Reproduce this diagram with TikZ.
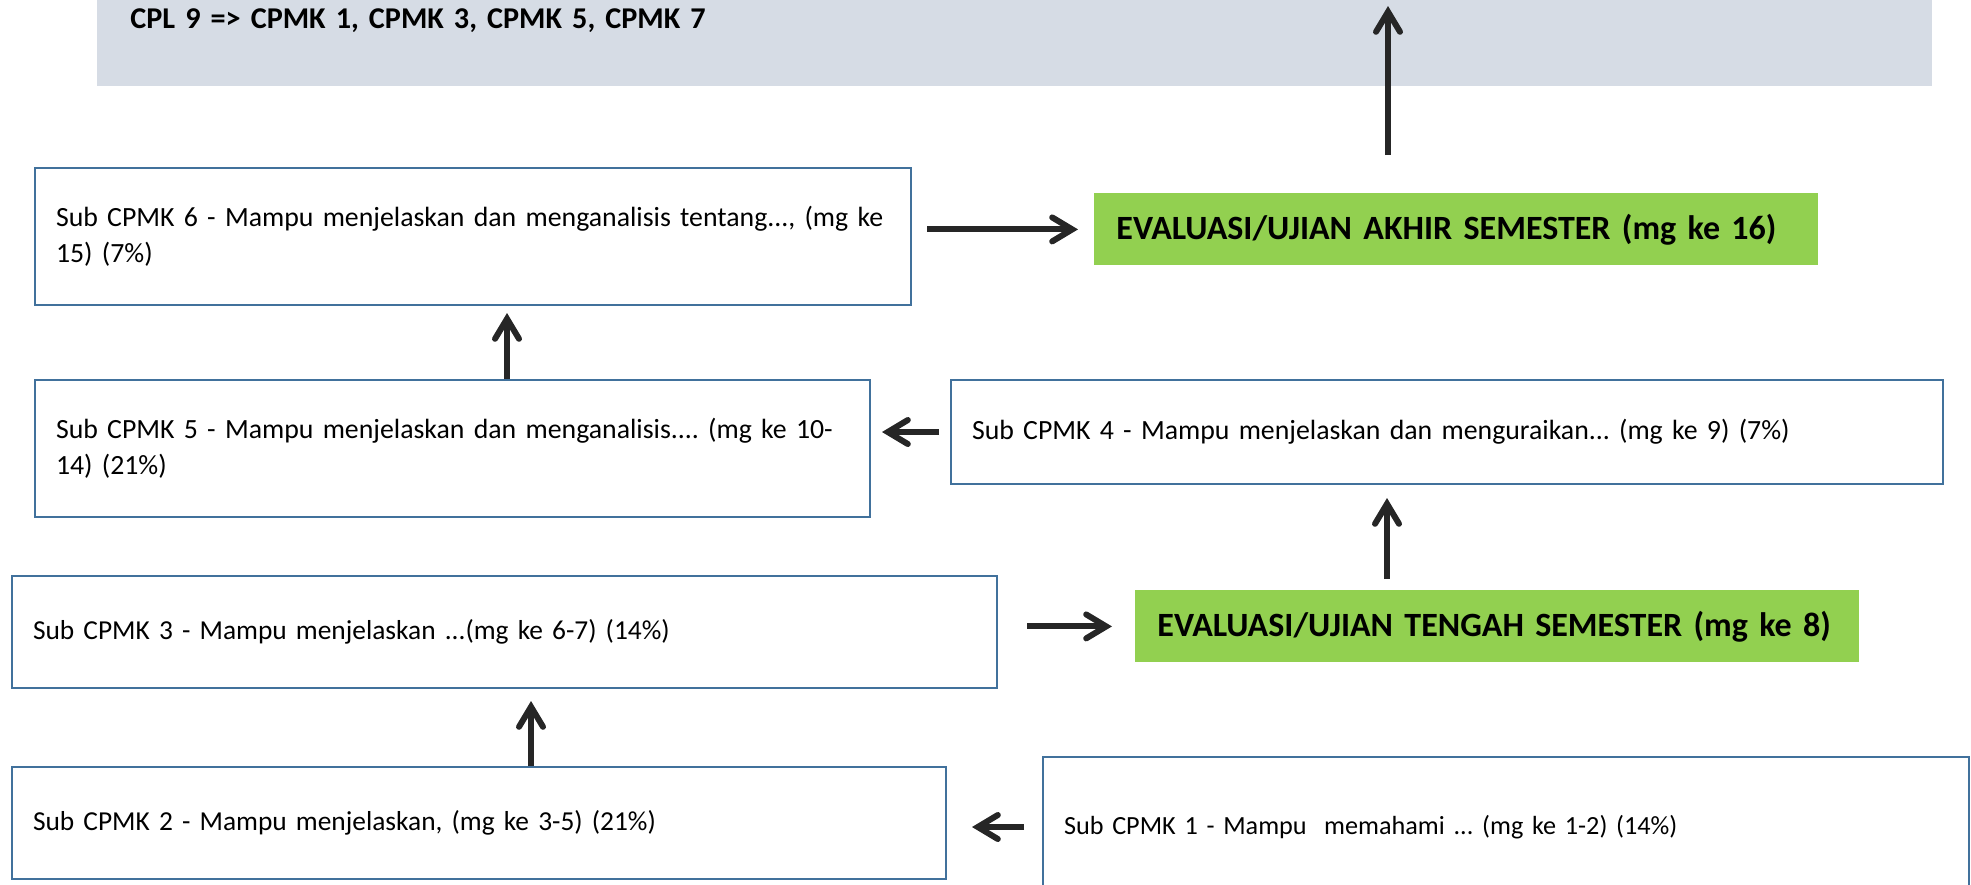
\documentclass[tikz,border=0pt]{standalone}
\usepackage{fontspec}
\setmainfont{Carlito}
\usetikzlibrary{arrows.meta}
\definecolor{boxBlue}{RGB}{65,113,156}
\definecolor{evalGreen}{RGB}{146,208,80}
\definecolor{cplGrey}{RGB}{214,220,229}
\definecolor{arrowDark}{RGB}{38,38,38}

\begin{document}
\frenchspacing
\begin{tikzpicture}
[subDecorate/.style={shape=rectangle,draw=boxBlue,line width=1pt,anchor=north west,
    align=left,inner xsep=10.5pt,inner ysep=0pt},%
  evalDecorate/.style={shape=rectangle,fill=evalGreen,anchor=north west,align=left,
    inner xsep=11pt,inner ysep=0pt,text width=340pt,minimum height=36pt,
    font=\fontsize{17}{21}\selectfont\bfseries},
  lineDecorate/.style={-{Straight Barb[length=10pt,width=12pt,line cap=round]},
    line width=3pt,draw=arrowDark},
  bigText/.style={font=\fontsize{13.9}{18}\selectfont},
  smallText/.style={font=\fontsize{13.7}{17}\selectfont},
  x=0.5pt,y=-0.5pt]
\useasboundingbox (0,0) rectangle (1971,884);
\clip (0,0) rectangle (1971,884);
%% header
\node (cpl) at (97,0) [anchor=north west,fill=cplGrey,inner xsep=16.5pt,inner ysep=0pt,
  text width=884.5pt,text height=14pt,text depth=29pt,
  font=\fontsize{15.1}{18}\selectfont\bfseries] {CPL 9 => CPMK 1, CPMK 3, CPMK 5, CPMK 7};
%% sub cpmk boxes
\node (sub6) at (34,167) [subDecorate,bigText,text width=417pt,minimum height=68.5pt]
  {\hbox to \hsize{Sub CPMK 6 - Mampu menjelaskan dan menganalisis tentang..., (mg ke}\\15) (7\%)};
\node (sub5) at (34,379) [subDecorate,bigText,text width=396.5pt,minimum height=68.5pt]
  {\hbox to \hsize{Sub CPMK 5 - Mampu menjelaskan dan menganalisis.... (mg ke 10-}\\14) (21\%)};
\node (sub4) at (950,379) [subDecorate,bigText,text width=475pt,minimum height=52pt]
  {Sub CPMK 4 - Mampu menjelaskan dan menguraikan... (mg ke 9) (7\%)};
\node (sub3) at (11,575) [subDecorate,smallText,text width=471.5pt,minimum height=56pt]
  {Sub CPMK 3 - Mampu menjelaskan ...(mg ke 6-7) (14\%)};
\node (sub2) at (11,766) [subDecorate,smallText,text width=446pt,minimum height=56pt]
  {Sub CPMK 2 - Mampu menjelaskan, (mg ke 3-5) (21\%)};
\node (sub1) at (1042,756) [subDecorate,smallText,font=\fontsize{13.1}{17}\selectfont,
  text width=442pt,minimum height=70pt]
  {Sub CPMK 1 - Mampu\ \ memahami ... (mg ke 1-2) (14\%)};
%% evaluations
\node (uas) at (1094,193) [evalDecorate] {\mbox{EVALUASI/UJIAN AKHIR SEMESTER (mg ke 16)}};
\node (uts) at (1135,590) [evalDecorate] {\mbox{EVALUASI/UJIAN TENGAH SEMESTER (mg ke 8)}};
%% arrows
\coordinate (colTop) at (1388,6);
\coordinate (col5) at (507,0);
\coordinate (col3) at (531,0);
\coordinate (col4) at (1387,0);
\draw[lineDecorate,shorten <=19pt] (uas.north -| colTop) -- (colTop);
\draw[lineDecorate,shorten <=7.5pt,shorten >=8pt] (sub6.east |- uas.west) -- (uas.west);
\draw[lineDecorate,shorten >=3.5pt] (sub5.north -| col5) -- (sub6.south -| col5);
\draw[lineDecorate,shorten <=5.5pt,shorten >=5.5pt] (sub4.west) -- (sub4.west -| sub5.east);
\draw[lineDecorate,shorten <=5.5pt,shorten >=6.5pt] (uts.north -| col4) -- (sub4.south -| col4);
\draw[lineDecorate,shorten <=14.5pt,shorten >=11.5pt] (sub3.east |- uts.west) -- (uts.west);
\draw[lineDecorate,shorten >=6pt] (sub2.north -| col3) -- (sub3.south -| col3);
\draw[lineDecorate,shorten <=9pt,shorten >=12.5pt] (sub1.west) -- (sub1.west -| sub2.east);
\end{tikzpicture}
\end{document}
